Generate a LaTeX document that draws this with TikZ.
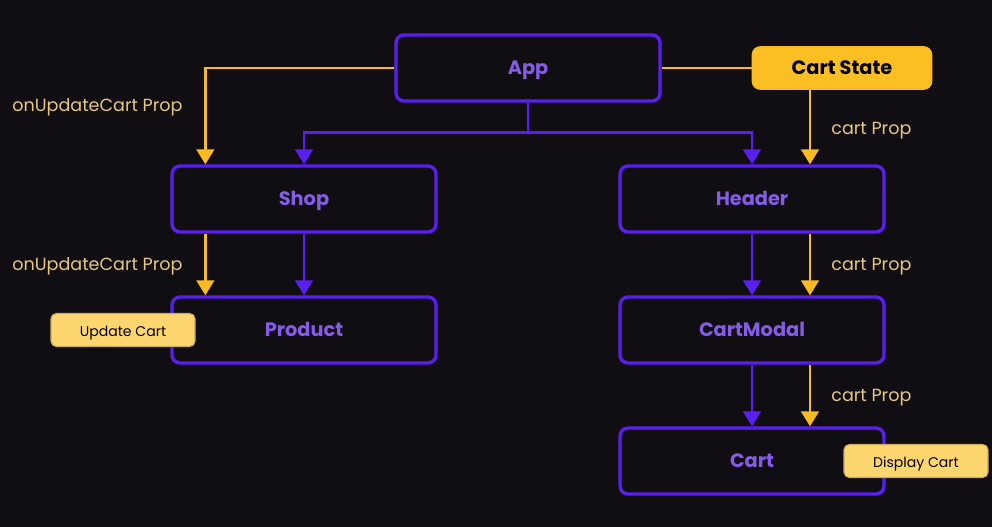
\documentclass[tikz,border=0pt]{standalone}
\usepackage{fontspec}
\setmainfont{Poppins}
\usetikzlibrary{calc, positioning, arrows.meta}

\definecolor{bgdark}{RGB}{16,14,19}
\definecolor{violetline}{RGB}{90,30,238}
\definecolor{violettext}{RGB}{132,92,232}
\definecolor{goldline}{RGB}{250,186,34}
\definecolor{goldfill}{RGB}{251,191,36}
\definecolor{notefill}{RGB}{253,214,112}
\definecolor{proptext}{RGB}{230,200,130}

\tikzset{
  comp/.style={draw=violetline, line width=1.9pt, rounded corners=4.5pt,
    minimum width=5.28cm, minimum height=1.32cm, text=violettext,
    text height=0.8em, text depth=0.1em,
    font=\fontsize{11}{13}\selectfont\bfseries},
  state/.style={draw=goldline, fill=goldfill, line width=1pt, rounded corners=4.5pt,
    minimum width=3.58cm, minimum height=0.84cm, text=black,
    text height=0.8em, text depth=0.1em,
    font=\fontsize{11}{13}\selectfont\bfseries},
  note/.style={fill=notefill, draw=notefill!80!black, line width=0.6pt, rounded corners=3pt,
    minimum width=2.88cm, minimum height=0.66cm, text=black,
    text height=0.8em, text depth=0.1em,
    font=\fontsize{8}{10}\selectfont},
  prop/.style={text=proptext, anchor=west, inner sep=0pt,
    text height=0.8em, text depth=0.1em,
    font=\fontsize{10}{12}\selectfont},
  vlink/.style={draw=violetline, line width=1.5pt},
  glink/.style={draw=goldline, line width=1.5pt},
  tip/.style={-{Triangle[width=10pt,length=8.5pt]}}
}

\begin{document}
\begin{tikzpicture}[x=0.02cm, y=-0.02cm]
    % Background and bounds
    \fill[bgdark] (0,0) rectangle (992,527);
    \useasboundingbox (0,0) rectangle (992,527);

    % Components
    \node[comp] (app)       at (528,68)  {App};
    \node[comp] (shop)      at (304,199) {Shop};
    \node[comp] (header)    at (752,199) {Header};
    \node[comp] (product)   at (304,330) {Product};
    \node[comp] (cartmodal) at (752,330) {CartModal};
    \node[comp] (cart)      at (752,461) {Cart};

    % State and notes
    \node[state] (cartstate) at (842,68) {Cart State};
    \node[note] (updatecart)  at (123,330) {Update Cart};
    \node[note] (displaycart) at (916,461) {Display Cart};

    % Component tree
    \draw[vlink] (app.south) -- ++(0,30) coordinate (fork);
    \draw[vlink, tip] (fork) -| (shop.north);
    \draw[vlink, tip] (fork) -| (header.north);
    \draw[vlink, tip] (shop.south) -- (product.north);
    \draw[vlink, tip] (header.south) -- (cartmodal.north);
    \draw[vlink, tip] (cartmodal.south) -- (cart.north);

    % Props passed down
    \coordinate (shopin)  at ($(shop.north west)+(35,0)$);
    \coordinate (shopout) at ($(shop.south west)+(35,0)$);
    \coordinate (prodin)  at ($(product.north west)+(35,0)$);
    \coordinate (hdrin)   at ($(header.north)+(58,0)$);
    \coordinate (hdrout)  at ($(header.south)+(58,0)$);
    \coordinate (cmin)    at ($(cartmodal.north)+(58,0)$);
    \coordinate (cmout)   at ($(cartmodal.south)+(58,0)$);
    \coordinate (cartin)  at ($(cart.north)+(58,0)$);

    \draw[glink] (cartstate.west) -- (app.east);
    \draw[glink, tip] (app.west) -| (shopin);
    \draw[glink, tip] (shopout) -- (prodin);
    \draw[glink, tip] (cartstate.south -| hdrin) -- (hdrin);
    \draw[glink, tip] (hdrout) -- (cmin);
    \draw[glink, tip] (cmout) -- (cartin);

    % Prop labels
    \node[prop] (lblshop)  at (12,105)  {onUpdateCart Prop};
    \node[prop] (lblprod)  at (12,264)  {onUpdateCart Prop};
    \node[prop] (lblhdr)   at (831,128) {cart Prop};
    \node[prop] (lblcm)    at (831,264) {cart Prop};
    \node[prop] (lblcart)  at (831,395) {cart Prop};
\end{tikzpicture}
\end{document}
